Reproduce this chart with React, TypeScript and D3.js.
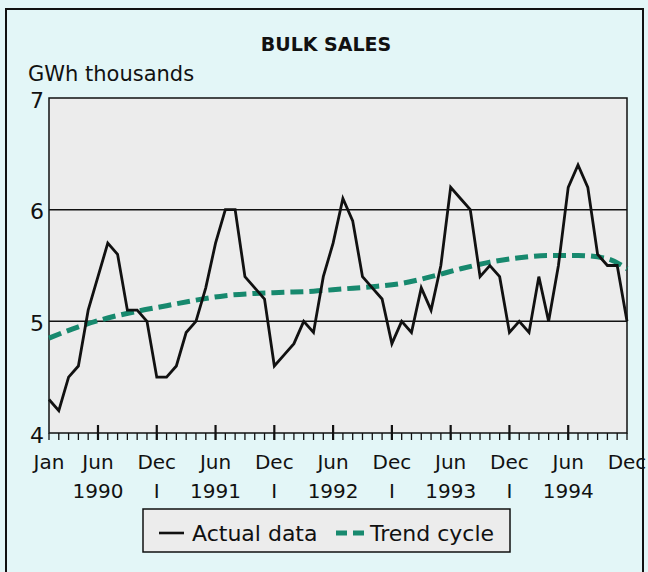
import * as React from "react";
import * as d3 from "d3";

// monthly bulk sales, Jan 1990 .. Dec 1994 (GWh thousands)
const actual = [
  4.3, 4.2, 4.5, 4.6, 5.1, 5.4, 5.7, 5.6, 5.1, 5.1, 5.0, 4.5,
  4.5, 4.6, 4.9, 5.0, 5.3, 5.7, 6.0, 6.0, 5.4, 5.3, 5.2, 4.6,
  4.7, 4.8, 5.0, 4.9, 5.4, 5.7, 6.1, 5.9, 5.4, 5.3, 5.2, 4.8,
  5.0, 4.9, 5.3, 5.1, 5.5, 6.2, 6.1, 6.0, 5.4, 5.5, 5.4, 4.9,
  5.0, 4.9, 5.4, 5.0, 5.5, 6.2, 6.4, 6.2, 5.6, 5.5, 5.5, 5.0,
];

const trendMonths = [0, 3, 6, 9, 12, 15, 18, 21, 24, 27, 30, 33, 36, 39, 42, 45, 48, 51, 54, 57, 59];
const trendValues = [
  4.85, 4.95, 5.03, 5.09, 5.14, 5.19, 5.23, 5.25, 5.26, 5.27, 5.29,
  5.31, 5.34, 5.4, 5.47, 5.53, 5.57, 5.59, 5.59, 5.56, 5.47,
];

const monthTickIdx = [0, 5, 11, 17, 23, 29, 35, 41, 47, 53, 59];
const monthTickLabels = ["Jan", "Jun", "Dec", "Jun", "Dec", "Jun", "Dec", "Jun", "Dec", "Jun", "Dec"];
const yearIdx = [5, 17, 29, 41, 53];
const years = ["1990", "1991", "1992", "1993", "1994"];
const yearSeparators = [11, 23, 35, 47];
const yTicks = [4, 5, 6, 7];

const BulkSales = () => {
  const svgRef = React.useRef<SVGSVGElement>(null);

  React.useEffect(() => {
    const width = 648;
    const height = 572;
    const font = "'DejaVu Sans', sans-serif";
    const teal = "#17896e";

    const svg = d3.select(svgRef.current);
    svg.selectAll("*").remove();
    svg.attr("width", width).attr("height", height);

    // page background + frame
    svg
      .append("rect")
      .attr("width", width)
      .attr("height", height)
      .attr("fill", "#e3f6f7");
    svg
      .append("rect")
      .attr("x", 6)
      .attr("y", 9)
      .attr("width", 637)
      .attr("height", 575)
      .attr("fill", "none")
      .attr("stroke", "#111")
      .attr("stroke-width", 2);

    const x = d3.scaleLinear().domain([0, 59]).range([49, 627]);
    const y = d3.scaleLinear().domain([4, 7]).range([433, 98]);

    // plot area
    svg
      .append("rect")
      .attr("x", x(0))
      .attr("y", y(7))
      .attr("width", x(59) - x(0))
      .attr("height", y(4) - y(7))
      .attr("fill", "#ececec");

    svg
      .append("g")
      .selectAll("line")
      .data([5, 6])
      .enter()
      .append("line")
      .attr("x1", x(0))
      .attr("x2", x(59))
      .attr("y1", (d) => y(d))
      .attr("y2", (d) => y(d))
      .attr("stroke", "#111")
      .attr("stroke-width", 1.5);

    svg
      .append("rect")
      .attr("x", x(0))
      .attr("y", y(7))
      .attr("width", x(59) - x(0))
      .attr("height", y(4) - y(7))
      .attr("fill", "none")
      .attr("stroke", "#111")
      .attr("stroke-width", 1.5);

    // month ticks
    const ticks = svg.append("g").attr("stroke", "#111").attr("stroke-width", 1.3);
    ticks
      .selectAll("line.minor")
      .data(d3.range(60))
      .enter()
      .append("line")
      .attr("class", "minor")
      .attr("x1", (d) => x(d))
      .attr("x2", (d) => x(d))
      .attr("y1", y(4))
      .attr("y2", y(4) + 7);
    ticks
      .selectAll("line.major")
      .data(monthTickIdx.slice(1, -1))
      .enter()
      .append("line")
      .attr("class", "major")
      .attr("stroke-width", 2.2)
      .attr("x1", (d) => x(d))
      .attr("x2", (d) => x(d))
      .attr("y1", y(4) - 8)
      .attr("y2", y(4) + 7);

    // trend cycle
    const trendLine = d3
      .line<number>()
      .x((d, i) => x(trendMonths[i]))
      .y((d) => y(d))
      .curve(d3.curveMonotoneX);
    svg
      .append("path")
      .attr("d", trendLine(trendValues))
      .attr("fill", "none")
      .attr("stroke", teal)
      .attr("stroke-width", 5)
      .attr("stroke-dasharray", "13,6");

    // actual data
    const actualLine = d3
      .line<number>()
      .x((d, i) => x(i))
      .y((d) => y(d));
    svg
      .append("path")
      .attr("d", actualLine(actual))
      .attr("fill", "none")
      .attr("stroke", "#111")
      .attr("stroke-width", 2.8)
      .attr("stroke-linejoin", "miter");

    const text = svg.append("g").attr("font-family", font).attr("fill", "#111");

    text
      .append("text")
      .attr("x", 326)
      .attr("y", 51)
      .attr("text-anchor", "middle")
      .attr("font-size", 19)
      .attr("font-weight", "bold")
      .text("BULK SALES");

    text
      .append("text")
      .attr("x", 28)
      .attr("y", 81)
      .attr("font-size", 21)
      .text("GWh thousands");

    text
      .selectAll("text.ytick")
      .data(yTicks)
      .enter()
      .append("text")
      .attr("class", "ytick")
      .attr("x", 44)
      .attr("y", (d) => y(d) + 9.5)
      .attr("text-anchor", "end")
      .attr("font-size", 22)
      .text((d) => d);

    text
      .selectAll("text.month")
      .data(monthTickIdx)
      .enter()
      .append("text")
      .attr("class", "month")
      .attr("x", (d) => x(d))
      .attr("y", 469)
      .attr("text-anchor", "middle")
      .attr("font-size", 20)
      .text((d, i) => monthTickLabels[i]);

    text
      .selectAll("text.year")
      .data(yearIdx)
      .enter()
      .append("text")
      .attr("class", "year")
      .attr("x", (d) => x(d))
      .attr("y", 498)
      .attr("text-anchor", "middle")
      .attr("font-size", 20)
      .text((d, i) => years[i]);

    text
      .selectAll("text.sep")
      .data(yearSeparators)
      .enter()
      .append("text")
      .attr("class", "sep")
      .attr("x", (d) => x(d))
      .attr("y", 498)
      .attr("text-anchor", "middle")
      .attr("font-size", 20)
      .text("I");

    // legend
    const legend = svg.append("g");
    legend
      .append("rect")
      .attr("x", 143)
      .attr("y", 509)
      .attr("width", 367)
      .attr("height", 43)
      .attr("fill", "#ececec")
      .attr("stroke", "#111")
      .attr("stroke-width", 1.5);
    legend
      .append("line")
      .attr("x1", 159)
      .attr("x2", 184)
      .attr("y1", 533)
      .attr("y2", 533)
      .attr("stroke", "#111")
      .attr("stroke-width", 2.6);
    legend
      .append("text")
      .attr("x", 192)
      .attr("y", 541)
      .attr("font-family", font)
      .attr("font-size", 22)
      .attr("fill", "#111")
      .text("Actual data");
    legend
      .append("line")
      .attr("x1", 336)
      .attr("x2", 364)
      .attr("y1", 533)
      .attr("y2", 533)
      .attr("stroke", teal)
      .attr("stroke-width", 5)
      .attr("stroke-dasharray", "11,6");
    legend
      .append("text")
      .attr("x", 370)
      .attr("y", 541)
      .attr("font-family", font)
      .attr("font-size", 22)
      .attr("fill", "#111")
      .text("Trend cycle");
  }, []);

  return <svg ref={svgRef} style={{ position: "absolute", left: 0, top: 0 }} />;
};

export default function App() {
  return <BulkSales />;
}
